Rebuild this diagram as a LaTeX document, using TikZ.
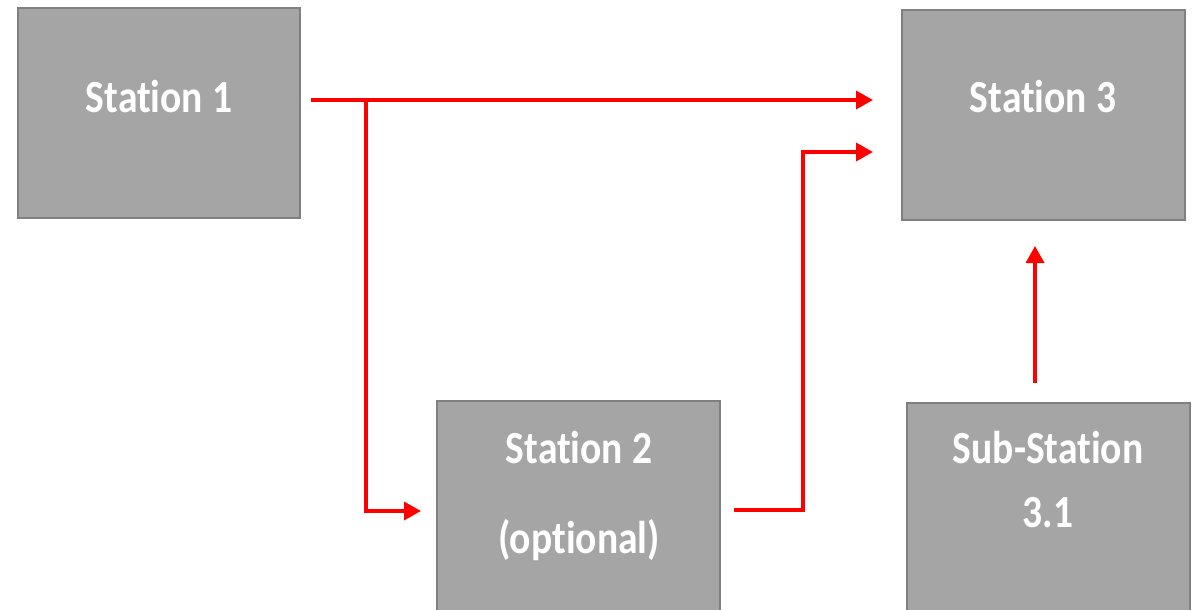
\documentclass[tikz,border=0pt]{standalone}
\usepackage{fontspec}
\newfontfamily\lblfont[FakeStretch=0.86,RawFeature={-liga;-clig}]{Carlito}
\usetikzlibrary{arrows.meta}
\definecolor{boxfill}{HTML}{A5A5A5}
\definecolor{boxline}{HTML}{808080}
\definecolor{arrowred}{HTML}{FF0000}
\tikzset{
  stationbox/.style={draw=boxline, line width=2pt, fill=boxfill, rectangle, inner sep=0pt},
  lbl/.style={text=white, font=\lblfont\bfseries\fontsize{46}{50}\selectfont, anchor=base, inner sep=0pt},
  flow/.style={draw=arrowred, line width=3.5pt, -{Triangle[length=17pt,width=18pt]}},
}
\begin{document}
\begin{tikzpicture}[x=1pt,y=-1pt]
\useasboundingbox (0,0) rectangle (1192,610);
\clip (0,0) rectangle (1192,610);
% boxes
\node[stationbox, minimum width=282pt, minimum height=210pt] (s1) at (159,113) {};
\node[stationbox, minimum width=283pt, minimum height=210pt] (s3) at (1043.5,115) {};
\node[stationbox, minimum width=283pt, minimum height=215pt] (s2) at (578.5,508.5) {};
\node[stationbox, minimum width=283pt, minimum height=215pt] (s31) at (1048.5,510.5) {};
% labels
\node[lbl] (t1) at (159,113) {Station 1};
\node[lbl] (t3) at (1043,113) {Station 3};
\node[lbl] (t2a) at (579,463) {Station 2};
\node[lbl] (t2b) at (579,553) {(optional)};
\node[lbl] (t31a) at (1048,463) {Sub-Station};
\node[lbl] (t31b) at (1048,527) {3.1};
% connector points
\coordinate (a1) at (311,100);
\coordinate (br) at (366,100);
\coordinate (a1end) at (873,100);
\coordinate (b1) at (366,511);
\coordinate (b1end) at (421,511);
\coordinate (c0) at (734,510);
\coordinate (c1) at (803,510);
\coordinate (c2) at (803,152);
\coordinate (c2end) at (873,152);
\coordinate (d0) at (1035,383);
\coordinate (d1) at (1035,246);
% connectors
\draw[flow] (a1) -- (a1end);
\draw[flow] (br) -- (b1) -- (b1end);
\draw[flow] (c0) -- (c1) -- (c2) -- (c2end);
\draw[flow] (d0) -- (d1);
\end{tikzpicture}
\end{document}
